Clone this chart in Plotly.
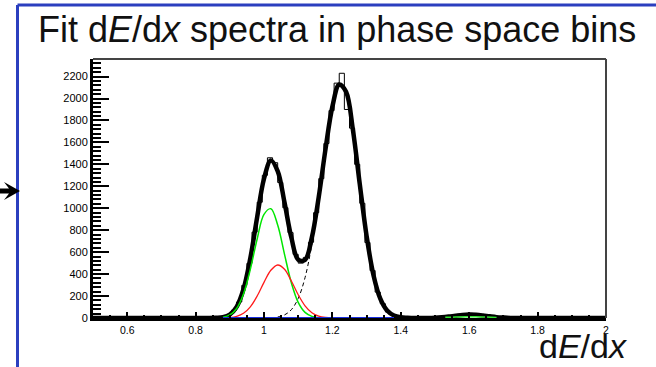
import plotly.graph_objects as go

# ---- histogram: 100 bins of width 0.015 between 0.5 and 2.0 ----
hist_lo, hist_hi, n_bins = 0.5, 2.0, 100
hist_counts = [0] * 24 + [
    3, 11, 26, 72, 146, 297, 498, 782, 1055, 1300,
    1460, 1415, 1235, 1005, 778, 580, 500, 552, 690, 960,
    1270, 1590, 1890, 2140, 2230, 1900, 1730, 1400, 1045, 688,
    432, 236, 130, 55, 28, 9, 5, 3, 8, 2,
    6, 4, 9, 5, 12, 18, 26, 30, 38, 42,
    34, 31, 22, 16, 12, 8, 10, 4, 7, 3,
    5, 2, 4,
    1, 0, 2, 0, 1, 0, 0, 1, 0, 0, 0, 0, 0,
]

# ---- total fit curve ----
total_x = [0.50, 0.84, 0.86, 0.88, 0.90, 0.92, 0.94, 0.96, 0.98, 1.00, 1.02,
           1.04, 1.06, 1.08, 1.10, 1.12, 1.14, 1.16, 1.18, 1.20, 1.22,
           1.24, 1.26, 1.28, 1.30, 1.32, 1.34, 1.36, 1.38, 1.40, 1.42, 1.44,
           1.48, 1.50, 1.52, 1.54, 1.56, 1.58, 1.60, 1.62, 1.64, 1.66,
           1.68, 1.70, 1.72, 1.76, 2.00]
total_y = [0, 0, 2, 8, 32, 102, 262, 545, 920, 1269, 1436,
           1339, 1052, 733, 532, 530, 735, 1102, 1542, 1926, 2128,
           2061, 1713, 1221, 747, 392, 176, 68, 22, 6, 2, 0,
           1, 3, 7, 13, 21, 28, 31, 29, 23, 15,
           8, 4, 1, 0, 0]

# ---- fit components ----
green_x = [0.88, 0.90, 0.92, 0.94, 0.96, 0.98, 1.00, 1.02, 1.04, 1.06,
           1.08, 1.10, 1.12, 1.14, 1.16]
green_y = [7, 28, 87, 219, 443, 720, 944, 996, 847, 580,
           320, 142, 51, 15, 3]

red_x = [0.90, 0.92, 0.94, 0.96, 0.98, 1.00, 1.02, 1.04, 1.06, 1.08,
         1.10, 1.12, 1.14, 1.16, 1.18, 1.20]
red_y = [4, 15, 43, 102, 200, 325, 435, 483, 444, 337,
         212, 111, 48, 17, 5, 1]

kaon_x = [1.04, 1.06, 1.08, 1.10, 1.12, 1.14, 1.16, 1.18, 1.20, 1.22,
          1.24, 1.26, 1.28, 1.30, 1.32, 1.34, 1.36, 1.38, 1.40]
kaon_y = [9, 28, 76, 178, 368, 672, 1082, 1537, 1925, 2128,
          2061, 1713, 1221, 747, 392, 176, 68, 22, 6]

blue_x = [0.88, 1.38]
blue_y = [0, 0]

heavy_x = [1.53, 1.56, 1.59, 1.62, 1.65, 1.68]
heavy_y = [6, 10, 12, 11, 8, 5]

# ---- canvas geometry (pixels) ----
W_FIG, H_FIG = 656, 367
L, T, W, H = 93, 59, 513, 259


def px(xp):
    return (xp - L) / W


def py(yp):
    return (T + H - yp) / H


bin_w = (hist_hi - hist_lo) / n_bins
edges = [hist_lo + i * bin_w for i in range(n_bins + 1)]
step_x = edges
step_y = hist_counts + [hist_counts[-1]]

fig = go.Figure()
fig.add_trace(go.Scatter(x=step_x, y=step_y, mode="lines", cliponaxis=False,
                         line=dict(color="black", width=1, shape="hv")))
fig.add_trace(go.Scatter(x=total_x, y=total_y, mode="lines", cliponaxis=False,
                         line=dict(color="black", width=4.5, shape="spline")))
fig.add_trace(go.Scatter(x=kaon_x, y=kaon_y, mode="lines", cliponaxis=False,
                         line=dict(color="black", width=1, dash="4px,3px",
                                   shape="spline")))
fig.add_trace(go.Scatter(x=green_x, y=green_y, mode="lines", cliponaxis=False,
                         line=dict(color="#00e600", width=1.5, shape="spline")))
fig.add_trace(go.Scatter(x=red_x, y=red_y, mode="lines", cliponaxis=False,
                         line=dict(color="#ff1a1a", width=1.3, shape="spline")))
fig.add_trace(go.Scatter(x=blue_x, y=blue_y, mode="lines", cliponaxis=False,
                         line=dict(color="#1a2ee0", width=2.2)))
fig.add_trace(go.Scatter(x=heavy_x, y=heavy_y, mode="lines", cliponaxis=False,
                         line=dict(color="#33e633", width=1.5, shape="spline")))

tick_font = dict(family="Liberation Sans, Arial, sans-serif", size=10.5,
                 color="#000")

fig.update_xaxes(range=[0.5, 2.0], showgrid=False, zeroline=False,
                 showline=True, linewidth=3, linecolor="black",
                 ticks="inside", ticklen=6, tickwidth=2, tickcolor="black",
                 tick0=0, dtick=0.2, tickfont=tick_font,
                 minor=dict(ticks="inside", ticklen=3, tickwidth=1.5,
                            tickcolor="black", dtick=0.05, tick0=0))
fig.update_yaxes(range=[0, 2360], showgrid=False, zeroline=False,
                 showline=True, linewidth=3, linecolor="black",
                 ticks="inside", ticklen=16, tickwidth=2, tickcolor="black",
                 tick0=0, dtick=200, tickfont=dict(tick_font, size=11),
                 minor=dict(ticks="inside", ticklen=8, tickwidth=2,
                            tickcolor="black", dtick=40, tick0=0))

blue_frame = "#2b3fbf"
shapes = [
    # upper and right borders of the frame
    dict(type="line", xref="paper", yref="paper", x0=0, x1=1, y0=1, y1=1,
         line=dict(color="#444", width=2)),
    dict(type="line", xref="paper", yref="paper", x0=1, x1=1, y0=0, y1=1,
         line=dict(color="#444", width=2)),
    # slide box
    dict(type="line", xref="paper", yref="paper", x0=px(17.5), x1=px(660),
         y0=py(5), y1=py(5), line=dict(color=blue_frame, width=3)),
    dict(type="line", xref="paper", yref="paper", x0=px(17.5), x1=px(17.5),
         y0=py(5), y1=py(372), line=dict(color=blue_frame, width=3)),
    # pointer arrow
    dict(type="path", xref="paper", yref="paper",
         path=(f"M {px(0)},{py(188.5)} L {px(9)},{py(188.5)} L {px(4)},{py(182)} "
               f"L {px(20)},{py(191)} L {px(4)},{py(200)} L {px(9)},{py(193.5)} "
               f"L {px(0)},{py(193.5)} Z"),
         fillcolor="black", line=dict(color="black", width=0)),
]

annotations = [
    dict(text="Fit d<i>E</i>/d<i>x</i> spectra in phase space bins",
         xref="paper", yref="paper", x=px(337), y=py(29),
         xanchor="center", yanchor="middle", showarrow=False,
         font=dict(family="Liberation Sans, Arial, sans-serif", size=36,
                   color="#111")),
    dict(text="d<i>E</i>/d<i>x</i>",
         xref="paper", yref="paper", x=px(629), y=py(367),
         xanchor="right", yanchor="bottom", showarrow=False,
         font=dict(family="Liberation Sans, Arial, sans-serif", size=34,
                   color="#111")),
]

fig.update_layout(width=W_FIG, height=H_FIG, showlegend=False,
                  margin=dict(l=L, r=W_FIG - L - W, t=T, b=H_FIG - T - H),
                  plot_bgcolor="white", paper_bgcolor="white",
                  shapes=shapes, annotations=annotations)

fig.write_html("out.html")
